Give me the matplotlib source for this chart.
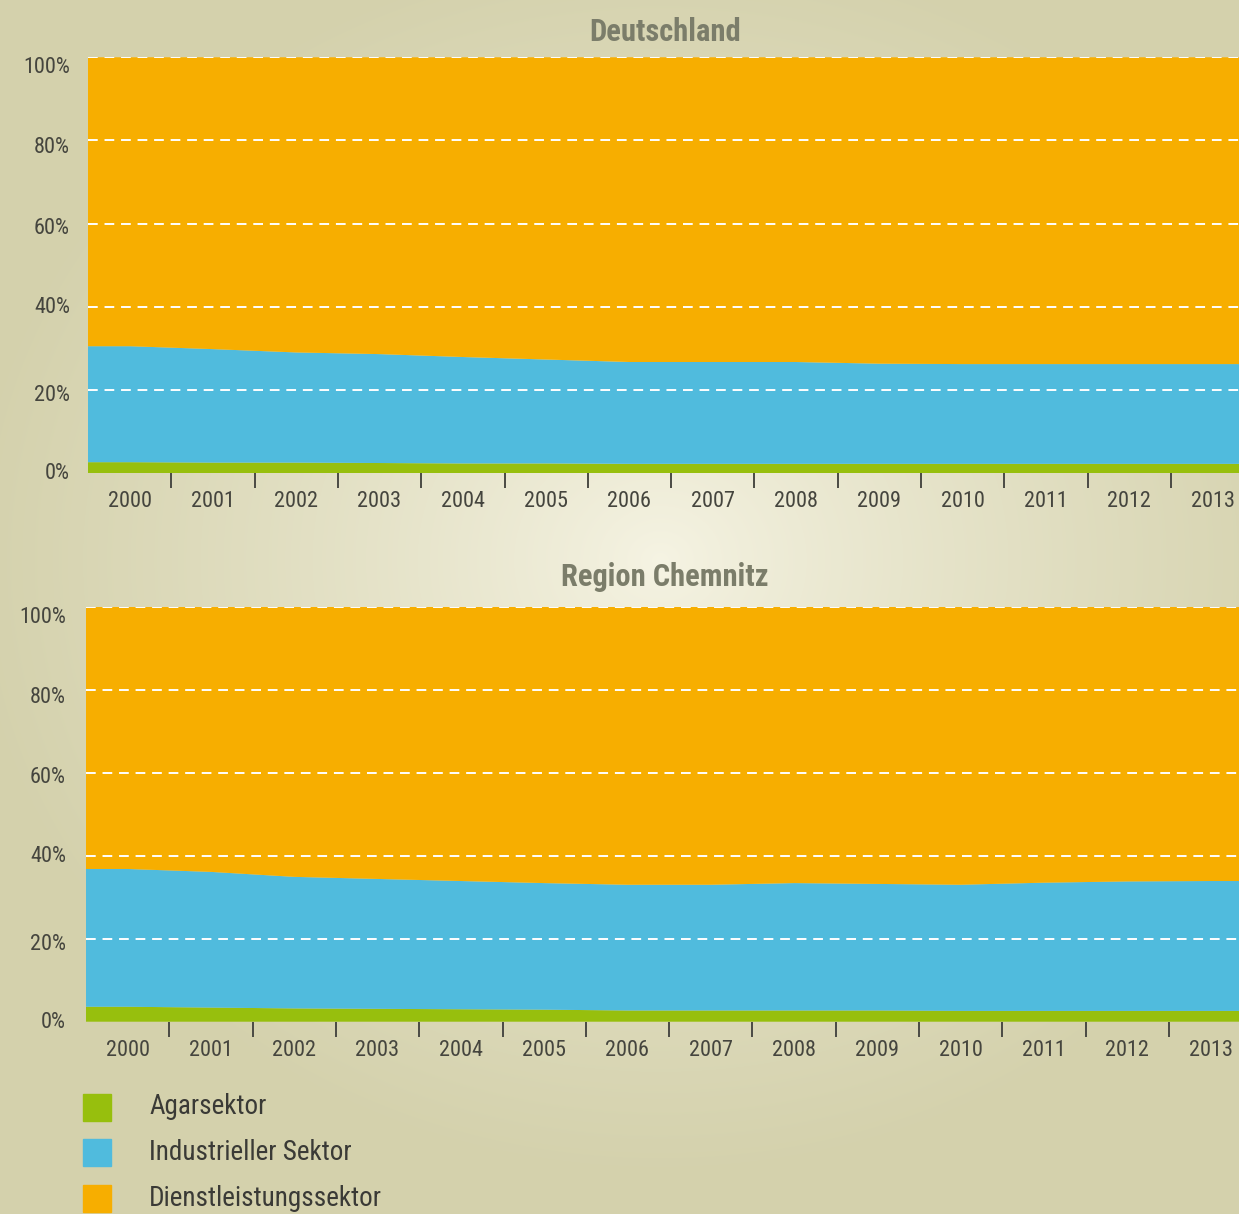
import numpy as np
import matplotlib
matplotlib.use("Agg")
import matplotlib.pyplot as plt
from matplotlib.patches import Rectangle
from matplotlib.transforms import ScaledTranslation

# ---- data ----
years = ["2000", "2001", "2002", "2003", "2004", "2005", "2006",
         "2007", "2008", "2009", "2010", "2011", "2012", "2013"]
series_names = ["Agarsektor", "Industrieller Sektor", "Dienstleistungssektor"]
series_colors = ["#97BF0D", "#50BBDD", "#F7AE00"]

# Deutschland (shares in %)
de_agrar = [2.6, 2.5, 2.5, 2.4, 2.3, 2.3, 2.2, 2.2, 2.2, 2.2, 2.2, 2.2, 2.2, 2.2]
de_cum_industrie = [30.5, 29.8, 29.0, 28.6, 27.9, 27.3, 26.7, 26.7, 26.7, 26.3, 26.2, 26.2, 26.2, 26.2]
de_industrie = [c - a for c, a in zip(de_cum_industrie, de_agrar)]
de_dienst = [100 - c for c in de_cum_industrie]

# Region Chemnitz (shares in %)
ch_agrar = [3.6, 3.4, 3.2, 3.1, 3.0, 2.9, 2.7, 2.7, 2.7, 2.7, 2.6, 2.6, 2.6, 2.6]
ch_cum_industrie = [36.8, 36.1, 34.9, 34.4, 33.9, 33.4, 33.0, 33.0, 33.4, 33.2, 33.0, 33.5, 33.8, 33.9]
ch_industrie = [c - a for c, a in zip(ch_cum_industrie, ch_agrar)]
ch_dienst = [100 - c for c in ch_cum_industrie]

titles = ["Deutschland", "Region Chemnitz"]
ytick_vals = [0, 20, 40, 60, 80, 100]
ytick_labels = ["0%", "20%", "40%", "60%", "80%", "100%"]

FONT = ["Liberation Sans Narrow", "Roboto Condensed", "Open Sans Condensed",
        "Roboto", "DejaVu Sans"]
plt.rcParams["font.family"] = FONT

W, H = 1239, 1214
fig = plt.figure(figsize=(W / 100, H / 100), dpi=100)

# ---- radial gradient background ----
bg = fig.add_axes([0, 0, 1, 1], zorder=-10)
yy, xx = np.mgrid[0:H, 0:W]
cx, cy = 660, 560
r = np.sqrt(((xx - cx) / 700.0) ** 2 + ((yy - cy) / 620.0) ** 2)
t = np.clip(r, 0, 1) ** 0.8
c_in = np.array([0xF6, 0xF4, 0xE4]) / 255.0
c_out = np.array([0xD4, 0xD1, 0xAC]) / 255.0
img = c_in[None, None, :] * (1 - t[..., None]) + c_out[None, None, :] * t[..., None]
bg.imshow(img, aspect="auto", extent=[0, 1, 0, 1], origin="upper")
bg.set_axis_off()

def px_rect(left, top, right, bottom):
    return [left / W, 1 - bottom / H, (right - left) / W, (bottom - top) / H]

panels = [
    (titles[0], [de_agrar, de_industrie, de_dienst], px_rect(88, 57.3, W, 473), 32, 18),
    (titles[1], [ch_agrar, ch_industrie, ch_dienst], px_rect(86, 606.7, W, 1021.7), 577, 20),
]

# downward pixel shift of each y label relative to its gridline (as in the original)
label_shift_px = [-2, 3, -2, 2, 5, 8]

TXT = "#45453e"
band = 83.3
for title, stacks, rect, title_y, ypad in panels:
    ax = fig.add_axes(rect)
    ax.set_facecolor("none")
    n = len(years)
    idx = np.arange(n)
    x_ext = np.concatenate([[-0.6], idx, [n + 0.5]])
    stacked = [np.concatenate([[s[0]], s, [s[-1]]]) for s in stacks]
    base = np.zeros_like(x_ext, dtype=float)
    for vals, col in zip(stacked, series_colors):
        ax.fill_between(x_ext, base, base + vals, color=col, linewidth=0, zorder=1)
        base = base + vals
    right = -0.5 + (rect[2] * W) / band
    ax.set_xlim(-0.5, right)
    ax.set_ylim(0, 100)
    for yv in ytick_vals[1:]:
        ax.axhline(yv, color="white", lw=1.4, ls=(0, (5, 3.5)), zorder=3)
    for s in ax.spines.values():
        s.set_visible(False)
    ax.set_yticks(ytick_vals)
    ax.set_yticklabels(ytick_labels, fontsize=16, color=TXT)
    ax.tick_params(axis="y", length=0, pad=ypad * 0.72)
    for lab, sh in zip(ax.get_yticklabels(), label_shift_px):
        lab.set_transform(lab.get_transform() + ScaledTranslation(0, -sh / 100, fig.dpi_scale_trans))
    ax.set_xticks(idx)
    ax.set_xticklabels(years, fontsize=16, color=TXT)
    ax.tick_params(axis="x", which="major", length=0, pad=13)
    ax.set_xticks(idx[:-1] + 0.5, minor=True)
    ax.tick_params(axis="x", which="minor", length=11, width=1.4, color="#4a4a44", direction="out")
    fig.text(665 / W, 1 - title_y / H, title, ha="center", va="center",
             fontsize=22, fontweight="bold", color="#7b7d6a")

# ---- legend ----
leg_rows = [1107, 1152, 1198]
for name, col, yc in zip(series_names, series_colors, leg_rows):
    fig.patches.append(Rectangle((83 / W, 1 - (yc + 13.5) / H), 28 / W, 27 / H,
                                 transform=fig.transFigure, color=col, zorder=5))
    fig.text(149 / W, 1 - yc / H, name, ha="left", va="center",
             fontsize=19.5, color="#3a3a36")

fig.savefig("out.png", dpi=100)
